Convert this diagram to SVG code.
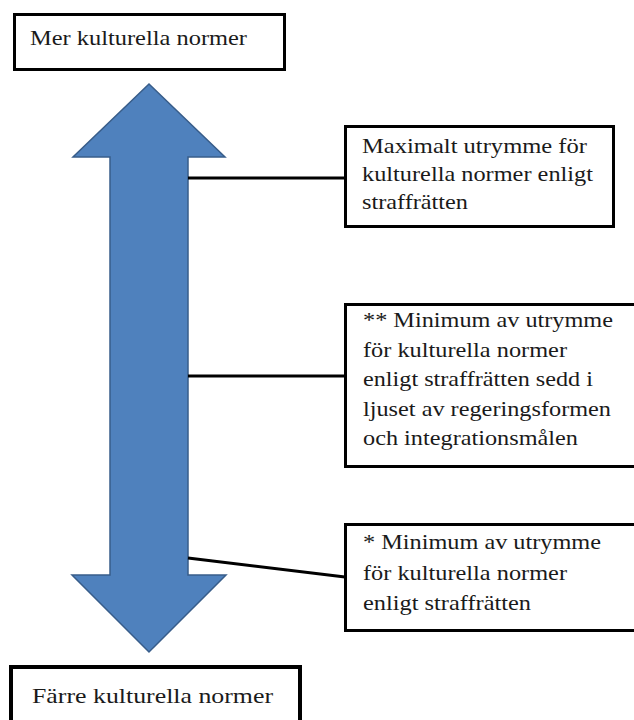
<svg xmlns="http://www.w3.org/2000/svg" width="634" height="720" viewBox="0 0 634 720">
<style>
.box{fill:#ffffff;stroke:#000000;stroke-width:3}
.t{font-family:"Liberation Serif","Times New Roman",serif;font-size:21px;fill:#1a1a1a}
.c{stroke:#000000;stroke-width:3;fill:none}
</style>
<rect width="634" height="720" fill="#ffffff"/>
<g id="arrow">
<polygon points="149,84 225,157 188,157 188,575 226,575 149,652 72,575 110,575 110,157 73,157" fill="#4f81bd" stroke="#385d8a" stroke-width="1.5"/>
</g>
<g id="connectors">
<line class="c" x1="188" y1="178" x2="345" y2="178"/>
<line class="c" x1="188" y1="376" x2="345" y2="376"/>
<line class="c" x1="188" y1="558" x2="345" y2="577"/>
</g>
<g id="top">
<rect class="box" x="14.5" y="14.5" width="270" height="55"/>
<text class="t" x="30" y="45" textLength="217" lengthAdjust="spacingAndGlyphs">Mer kulturella normer</text>
</g>
<g id="box1">
<rect class="box" x="345.5" y="126.5" width="268" height="100"/>
<text class="t" x="362" y="153" textLength="225" lengthAdjust="spacingAndGlyphs">Maximalt utrymme för</text>
<text class="t" x="362" y="181" textLength="231" lengthAdjust="spacingAndGlyphs">kulturella normer enligt</text>
<text class="t" x="362" y="209" textLength="106" lengthAdjust="spacingAndGlyphs">straffrätten</text>
</g>
<g id="box2">
<rect class="box" x="345.5" y="304.5" width="300" height="162"/>
<text class="t" x="363" y="327" textLength="250" lengthAdjust="spacingAndGlyphs">** Minimum av utrymme</text>
<text class="t" x="363" y="356.5" textLength="204" lengthAdjust="spacingAndGlyphs">för kulturella normer</text>
<text class="t" x="363" y="386" textLength="230" lengthAdjust="spacingAndGlyphs">enligt straffrätten sedd i</text>
<text class="t" x="363" y="415.5" textLength="248" lengthAdjust="spacingAndGlyphs">ljuset av regeringsformen</text>
<text class="t" x="363" y="445" textLength="215" lengthAdjust="spacingAndGlyphs">och integrationsmålen</text>
</g>
<g id="box3">
<rect class="box" x="345.5" y="524.5" width="300" height="106"/>
<text class="t" x="363" y="549" textLength="238" lengthAdjust="spacingAndGlyphs">* Minimum av utrymme</text>
<text class="t" x="363" y="579.5" textLength="204" lengthAdjust="spacingAndGlyphs">för kulturella normer</text>
<text class="t" x="363" y="610" textLength="168" lengthAdjust="spacingAndGlyphs">enligt straffrätten</text>
</g>
<g id="bottom">
<rect x="11" y="667" width="289" height="60" fill="#ffffff" stroke="#000000" stroke-width="4"/>
<text class="t" x="32" y="703" textLength="241" lengthAdjust="spacingAndGlyphs">Färre kulturella normer</text>
</g>
</svg>
